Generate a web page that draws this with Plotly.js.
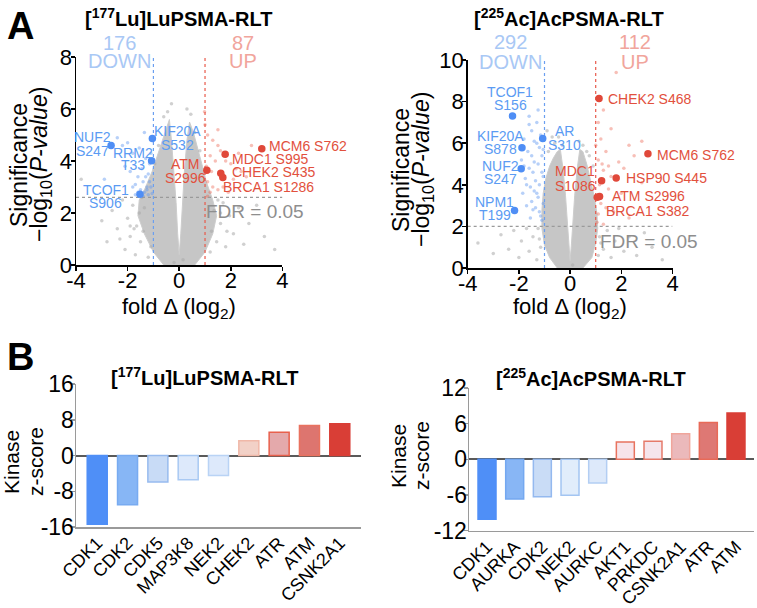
<!DOCTYPE html>
<html>
<head>
<meta charset="utf-8">
<script src="https://cdn.plot.ly/plotly-3.0.1.min.js"></script>
<style>html,body{margin:0;padding:0;background:#fff;}#chart{width:757px;height:608px;}</style>
</head>
<body>
<div id="chart"></div>
<script>
// ---------------- DATA ----------------
// Panel A, [177Lu]LuPSMA-RLT volcano
const luFoldCut = 1;
const luFdrLine = 2.6;
const luDownCount = '176';
const luUpCount = '87';
// envelope of the dense grey cloud
const luCloudX = [-0.6,-1.0,-1.35,-1.6,-1.55,-1.3,-1.05,-0.85,-0.65,-0.5,-0.38,-0.3,-0.2,-0.12,-0.06,0,0.06,0.12,0.2,0.3,0.4,0.55,0.72,0.9,1.05,1.3,1.45,1.3,1.0,0.6];
const luCloudY = [0,0.5,1.2,1.9,2.5,3.0,3.6,4.2,4.8,5.3,5.6,4.8,3.6,2.4,1.2,0.4,1.2,2.4,3.6,4.8,5.5,5.1,4.5,3.8,3.2,2.5,1.9,1.2,0.5,0];
const luGreyX = [-3.8,-3.0,-2.8,-2.6,-2.4,-2.2,-2.1,-2.0,-1.9,-1.8,-1.75,-1.7,-1.65,-1.55,-1.5,-1.45,-1.4,-1.35,-1.2,-1.1,-0.95,-0.8,-0.6,-0.45,-0.3,0.3,0.45,0.6,0.8,1.2,1.25,1.35,1.45,1.5,1.6,1.7,1.8,1.95,2.1,2.3,2.5,2.7,3.0,3.3,3.7,-0.2,0.15,-1.9,-2.3,1.6,1.85];
const luGreyY = [3.3,1.7,0.9,2.1,1.4,2.5,0.6,1.8,1.1,2.3,1.4,0.4,1.5,2.0,0.9,2.6,1.3,2.2,0.3,0.7,3.9,4.6,5.7,5.9,6.2,6.0,5.8,5.1,4.4,0.5,1.3,2.1,0.9,2.5,1.6,2.4,0.7,1.9,1.2,2.2,0.8,1.6,2.3,1.1,0.6,0.1,0.2,1.5,1.0,2.0,1.3];
const luDownX = [-2.9,-2.4,-2.2,-2.0,-1.9,-1.8,-1.7,-1.6,-1.55,-1.5,-1.45,-1.4,-1.35,-1.3,-1.25,-1.2,-1.2,-1.15,-1.1,-1.1,-1.05,-1.3,-1.6,-1.8,-1.4,-1.25,-1.15,-2.1,-1.7,-1.35];
const luDownY = [3.3,4.9,4.6,4.7,3.6,4.3,3.1,3.4,4.5,2.9,3.7,3.2,2.8,4.1,3.0,3.5,2.7,3.9,4.3,3.0,2.75,3.4,2.8,3.0,2.65,2.9,3.2,3.8,2.7,5.1];
const luUpX = [1.0,1.1,1.3,1.5,1.2,1.4,1.6,1.8,2.0,2.2,2.4,2.6,1.1,1.3,1.5,1.2,1.7,1.9,1.05,1.25,2.1,1.5,2.3,2.8,1.1,0.98];
const luUpY = [5.4,5.0,4.8,4.6,4.2,4.0,4.4,4.0,3.9,3.7,3.6,3.4,3.2,3.0,2.9,2.8,3.0,2.8,3.8,3.6,3.3,5.2,4.3,4.6,2.65,5.9];
const luSigNames = ['NUF2 S247','RRM2 T33','KIF20A S532','TCOF1 S906','ATM S2996','MCM6 S762','MDC1 S995','CHEK2 S435','BRCA1 S1286'];
const luSigFC = [-2.64,-1.07,-1.04,-1.52,1.07,3.2,1.78,1.61,1.69];
const luSigP = [4.6,4.01,4.87,2.72,3.65,4.47,4.26,3.53,3.37];

// Panel A, [225Ac]AcPSMA-RLT volcano
const acFoldCut = 1;
const acFdrLine = 2.0;
const acDownCount = '292';
const acUpCount = '112';
const acCloudX = [-0.5,-0.8,-1.0,-1.1,-1.1,-1.05,-0.95,-0.8,-0.65,-0.5,-0.38,-0.28,-0.18,-0.1,-0.05,0,0.05,0.1,0.18,0.28,0.38,0.5,0.65,0.8,0.95,1.05,1.08,1.0,0.85,0.5];
const acCloudY = [0,0.5,1.1,1.9,2.8,3.6,4.3,4.9,5.3,5.6,5.7,4.8,3.5,2.2,1.1,0.35,1.1,2.2,3.5,4.8,5.7,5.6,5.0,4.2,3.4,2.6,1.9,1.2,0.5,0];
const acGreyX = [-3.6,-3.0,-2.7,-2.4,-2.2,-2.0,-1.9,-1.7,-1.6,-1.45,-1.3,-1.25,-1.15,-0.85,-0.6,-0.45,-0.3,0.35,0.5,0.65,0.9,1.1,1.15,1.3,1.45,1.6,1.75,1.9,2.1,2.3,2.6,2.9,3.2,3.6,-0.9,0.1,-1.2,1.2,-0.7,0.75];
const acGreyY = [1.2,0.7,1.6,0.9,1.8,0.5,1.3,1.9,0.8,1.5,0.4,1.9,1.0,5.6,6.0,6.3,5.9,6.1,5.9,5.6,4.9,0.6,1.5,0.9,1.8,0.5,1.3,1.9,0.8,1.5,0.6,1.7,1.0,0.4,6.6,0.15,1.4,1.2,6.3,5.4];
const acDownX = [-1.9,-1.85,-1.8,-1.75,-1.7,-1.65,-1.6,-1.55,-1.5,-1.45,-1.4,-1.35,-1.3,-1.25,-1.2,-1.15,-1.1,-1.05,-1.6,-1.5,-1.4,-1.3,-1.2,-1.1,-1.7,-1.45,-1.35,-1.25,-1.15,-1.05,-1.5,-1.3,-1.1,-1.8,-1.6,-1.4,-1.2,-1.05,-1.55,-1.25];
const acDownY = [5.2,3.6,6.2,4.3,3.0,5.6,4.8,3.9,6.6,2.8,5.1,4.2,7.0,3.4,5.8,2.5,4.6,3.1,7.3,5.4,3.7,6.0,4.0,2.3,4.0,4.6,2.9,5.0,6.4,4.4,3.2,3.6,5.4,4.9,6.9,6.1,2.7,5.7,2.4,7.6];
const acUpX = [1.8,1.3,1.6,1.2,2.3,2.5,1.4,1.1,1.9,2.1,1.3,1.6,2.8,1.15,1.5,2.0,1.2,1.4,1.1,1.7,2.3,1.05,1.3,2.8,1.0,1.1,1.25,1.5];
const acUpY = [9.4,7.6,6.7,6.2,5.9,5.4,5.6,5.2,5.1,4.8,4.7,4.4,4.1,4.0,3.8,3.6,3.1,2.9,2.6,2.7,2.4,2.2,2.1,6.1,5.9,7.0,5.0,4.9];
const acSigNames = ['TCOF1 S156','KIF20A S878','AR S310','NUF2 S247','NPM1 T199','CHEK2 S468','MCM6 S762','HSP90 S445','MDC1 S1086','ATM S2996','BRCA1 S382'];
const acSigFC = [-2.25,-1.88,-1.07,-1.91,-2.17,1.13,3.04,1.80,1.23,1.15,1.06];
const acSigP = [7.31,5.78,6.23,4.77,2.77,8.15,5.49,4.33,4.20,3.44,3.40];

// Panel B, kinase z-scores
const luKinases = ['CDK1','CDK2','CDK5','MAP3K8','NEK2','CHEK2','ATR','ATM','CSNK2A1'];
const luZ = [-15.4,-11.0,-5.9,-5.4,-4.5,3.3,5.2,6.7,7.1];
const acKinases = ['CDK1','AURKA','CDK2','NEK2','AURKC','AKT1','PRKDC','CSNK2A1','ATR','ATM'];
const acZ = [-10.1,-6.7,-6.3,-6.05,-4.0,2.9,3.05,4.3,6.2,7.8];

// ---------------- STYLE ----------------
const FONT = 'Liberation Sans, Arial, Helvetica, sans-serif';
const BLUE = '#5b9bf3', RED = '#e2503d', BLUEDOT = '#4f8ef5', REDDOT = '#e0483a';
const luBarFill = ['#4f8ff7','#87b6f5','#c8dbf6','#dde9fb','#dde9fb','#f2d1c7','#e4a9ab','#dd756f','#d93e36'];
const luBarLine = ['#4f8ff7','#78abf1','#97bbef','#a9c9f3','#b9d3f5','#f0b8a8','#e8604c','#e9725f','#d93e36'];
const acBarFill = ['#4f8ff7','#88b6f5','#c9dcf6','#e1edfb','#dde9fa','#f7e4ea','#f5e5ec','#ebb9bb','#de7874','#d93e36'];
const acBarLine = ['#4f8ff7','#74a8f0','#94b9ef','#a3c5f2','#b3cef3','#e8735f','#e57a6a','#f0a59b','#e86a58','#d93e36'];
// label placement (pixel offsets from point): [xanchor, xshift, yshift line1, yshift line2]
const luLabelPos = [['center',-18.5,8.6,-5.4],['center',-19,7.7,-4.7],['center',25.2,7.7,-6.6],['center',-34.2,4.3,-9],['center',-21.7,6.3,-7.4],['left',5,3.3],['left',4.7,-5],['left',9.3,1],['left',-1.7,-10]];
const acLabelPos = [['center',-2.2,24.4,11],['center',-21,11.6,-1],['center',22,7.3,-7],['center',-21,2.6,-10],['center',-20,8,-4.3],['left',7.3,0],['left',7.4,-0.7],['left',7.6,0],['center',-26.5,9.3,-5],['left',10.7,0],['left',6.3,-14]];

const traces = [];
const annotations = [];

function volcano(xa, ya, cloudX, cloudY, gX, gY, dX, dY, uX, uY, sN, sFC, sP, pos, fcut, fdr, ymax) {
  traces.push({type:'scatter', x:cloudX, y:cloudY, xaxis:xa, yaxis:ya, mode:'lines', fill:'toself',
    fillcolor:'#c6c6c6', line:{width:1, color:'#cdcdcd'}, hoverinfo:'skip'});
  traces.push({type:'scatter', x:gX, y:gY, xaxis:xa, yaxis:ya, mode:'markers',
    marker:{size:3.5, color:'rgba(170,170,170,0.55)'}, hoverinfo:'skip'});
  traces.push({type:'scatter', x:dX, y:dY, xaxis:xa, yaxis:ya, mode:'markers',
    marker:{size:3.5, color:'rgba(95,150,240,0.45)'}, hoverinfo:'skip'});
  traces.push({type:'scatter', x:uX, y:uY, xaxis:xa, yaxis:ya, mode:'markers',
    marker:{size:3.5, color:'rgba(235,95,75,0.4)'}, hoverinfo:'skip'});
  // thresholds
  traces.push({type:'scatter', x:[-fcut,-fcut], y:[0,ymax], xaxis:xa, yaxis:ya, mode:'lines',
    line:{color:'#6a9ff0', width:1.2, dash:'dot'}, hoverinfo:'skip'});
  traces.push({type:'scatter', x:[fcut,fcut], y:[0,ymax], xaxis:xa, yaxis:ya, mode:'lines',
    line:{color:'#e8594a', width:1.2, dash:'dot'}, hoverinfo:'skip'});
  traces.push({type:'scatter', x:[-4,4], y:[fdr,fdr], xaxis:xa, yaxis:ya, mode:'lines',
    line:{color:'#9a9a9a', width:1.2, dash:'dot'}, hoverinfo:'skip'});
  // labelled sites
  const cols = sFC.map(v => v < 0 ? BLUEDOT : REDDOT);
  traces.push({type:'scatter', x:sFC, y:sP, xaxis:xa, yaxis:ya, mode:'markers',
    marker:{size:7.5, color:cols}, hoverinfo:'skip'});
  sN.forEach((name, i) => {
    const p = pos[i];
    const col = sFC[i] < 0 ? BLUE : RED;
    const f = {family:FONT, size:14, color:col};
    if (p[0] === 'left') {
      annotations.push({xref:xa, yref:ya, x:sFC[i], y:sP[i], text:name, showarrow:false,
        xanchor:'left', yanchor:'middle', xshift:p[1], yshift:p[2], font:f});
    } else {
      const parts = name.split(' ');
      annotations.push({xref:xa, yref:ya, x:sFC[i], y:sP[i], text:parts[0], showarrow:false,
        xanchor:'center', yanchor:'middle', xshift:p[1], yshift:p[2], font:f});
      annotations.push({xref:xa, yref:ya, x:sFC[i], y:sP[i], text:parts[1], showarrow:false,
        xanchor:'center', yanchor:'middle', xshift:p[1], yshift:p[3], font:f});
    }
  });
}

volcano('x','y', luCloudX, luCloudY, luGreyX, luGreyY, luDownX, luDownY, luUpX, luUpY, luSigNames, luSigFC, luSigP, luLabelPos, luFoldCut, luFdrLine, 8);
volcano('x2','y2', acCloudX, acCloudY, acGreyX, acGreyY, acDownX, acDownY, acUpX, acUpY, acSigNames, acSigFC, acSigP, acLabelPos, acFoldCut, acFdrLine, 10);

traces.push({type:'bar', x:luKinases, y:luZ, xaxis:'x3', yaxis:'y3', width:0.66,
  marker:{color:luBarFill, line:{color:luBarLine, width:1.5}}, hoverinfo:'skip'});
traces.push({type:'bar', x:acKinases, y:acZ, xaxis:'x4', yaxis:'y4', width:0.65,
  marker:{color:acBarFill, line:{color:acBarLine, width:1.5}}, hoverinfo:'skip'});

// ---------------- TEXT ----------------
const H = 608, W = 757;
function pa(x, y, text, size, color, opts) {
  annotations.push(Object.assign({xref:'paper', yref:'paper', x:x/W, y:1-y/H, text:text, showarrow:false,
    xanchor:'center', yanchor:'middle', font:{family:FONT, size:size, color:color}}, opts||{}));
}
pa(20, 26, '<b>A</b>', 38, '#000');
pa(20, 357, '<b>B</b>', 38, '#000');
pa(178, 17, '<b>[<sup>177</sup>Lu]LuPSMA-RLT</b>', 20, '#000');
pa(569, 17, '<b>[<sup>225</sup>Ac]AcPSMA-RLT</b>', 20, '#000');
pa(205, 376, '<b>[<sup>177</sup>Lu]LuPSMA-RLT</b>', 20, '#000');
pa(591, 377, '<b>[<sup>225</sup>Ac]AcPSMA-RLT</b>', 20, '#000');
// volcano axis titles
pa(19, 165, 'Significance', 23, '#000', {textangle:-90});
pa(41, 165, '\u2212log<sub>10</sub>(<i>P-value</i>)', 23, '#000', {textangle:-90});
pa(401, 170, 'Significance', 23, '#000', {textangle:-90});
pa(423, 170, '\u2212log<sub>10</sub>(<i>P-value</i>)', 23, '#000', {textangle:-90});
pa(179, 308, 'fold \u0394 (log<sub>2</sub>)', 22, '#000');
pa(570, 308, 'fold \u0394 (log<sub>2</sub>)', 22, '#000');
// bar axis titles
pa(12, 462, 'Kinase', 21, '#000', {textangle:-90});
pa(36, 462, 'z-score', 21, '#000', {textangle:-90});
pa(398, 456, 'Kinase', 21, '#000', {textangle:-90});
pa(421, 456, 'z-score', 21, '#000', {textangle:-90});

// counts and FDR labels (data x, paper y)
function cnt(xr, x, y, text, color) {
  annotations.push({xref:xr, yref:'paper', x:x, y:1-y/H, text:text, showarrow:false,
    xanchor:'center', yanchor:'middle', font:{family:FONT, size:20, color:color}});
}
cnt('x', -2.33, 42.7, luDownCount, '#a9c8f5');
cnt('x', -2.33, 61, 'DOWN', '#a9c8f5');
cnt('x', 2.47, 42.7, luUpCount, '#f1a59c');
cnt('x', 2.47, 61, 'UP', '#f1a59c');
cnt('x2', -2.31, 42, acDownCount, '#a9c8f5');
cnt('x2', -2.31, 62, 'DOWN', '#a9c8f5');
cnt('x2', 2.54, 42, acUpCount, '#f1a59c');
cnt('x2', 2.54, 62, 'UP', '#f1a59c');
annotations.push({xref:'x', yref:'y', x:0.96, y:2.05, text:'FDR = 0.05', showarrow:false,
  xanchor:'left', yanchor:'middle', font:{family:FONT, size:19, color:'#8e8e8e'}});
annotations.push({xref:'x2', yref:'y2', x:1.09, y:1.27, text:'FDR = 0.05', showarrow:false,
  xanchor:'left', yanchor:'middle', font:{family:FONT, size:19, color:'#8e8e8e'}});

// ---------------- LAYOUT ----------------
const volX = {range:[-4,4], tickvals:[-4,-2,0,2,4], ticktext:['-4','-2','0','2','4'],
  showline:true, linecolor:'#000', linewidth:1.5, ticks:'outside', ticklen:4, tickwidth:1.5, tickcolor:'#000',
  ticklabelstandoff:-9,
  showgrid:false, zeroline:false, tickfont:{family:FONT, size:22, color:'#000'}, fixedrange:true};
const volY = {showline:true, linecolor:'#000', linewidth:1.5, ticks:'outside', ticklen:4, tickwidth:1.5, tickcolor:'#000',
  ticklabelstandoff:-6,
  showgrid:false, zeroline:false, tickfont:{family:FONT, size:22, color:'#000'}, fixedrange:true};
const barX = {type:'category', showline:true, linecolor:'#9a9a9a', linewidth:1.5, ticks:'', tickangle:-45,
  ticklabelstandoff:-3,
  showgrid:false, zeroline:false, tickfont:{family:FONT, size:18, color:'#000'}, fixedrange:true};
const barY = {showline:true, linecolor:'#9a9a9a', linewidth:1.5, ticks:'outside', ticklen:4, tickwidth:1.5, tickcolor:'#9a9a9a',
  ticklabelstandoff:-8,
  showgrid:false, zeroline:true, zerolinecolor:'#5a5a5a', zerolinewidth:2,
  tickfont:{family:FONT, size:23, color:'#000'}, fixedrange:true};

const layout = {
  width:W, height:H, margin:{l:0, r:0, t:0, b:0}, showlegend:false,
  paper_bgcolor:'#fff', plot_bgcolor:'rgba(0,0,0,0)', font:{family:FONT},
  xaxis: Object.assign({}, volX, {domain:[0.1004,0.3731], anchor:'y'}),
  yaxis: Object.assign({}, volY, {domain:[0.5641,0.9062], anchor:'x', range:[0,8], tickvals:[0,2,4,6,8]}),
  xaxis2: Object.assign({}, volX, {domain:[0.6178,0.8884], anchor:'y2'}),
  yaxis2: Object.assign({}, volY, {domain:[0.5592,0.9012], anchor:'x2', range:[0,10], tickvals:[0,2,4,6,8,10]}),
  xaxis3: Object.assign({}, barX, {domain:[0.1004,0.4769], anchor:'y3', range:[-0.7,8.7]}),
  yaxis3: Object.assign({}, barY, {domain:[0.1332,0.3684], anchor:'x3', range:[-16,16], tickvals:[-16,-8,0,8,16], ticktext:['-16','-8','0','8','16']}),
  xaxis4: Object.assign({}, barX, {domain:[0.6196,0.996], anchor:'y4', range:[-0.65,9.65]}),
  yaxis4: Object.assign({}, barY, {domain:[0.1273,0.3618], anchor:'x4', range:[-12,12], tickvals:[-12,-6,0,6,12], ticktext:['-12','-6','0','6','12']}),
  annotations: annotations
};

Plotly.newPlot('chart', traces, layout, {staticPlot:true, displayModeBar:false});
</script>
</body>
</html>
